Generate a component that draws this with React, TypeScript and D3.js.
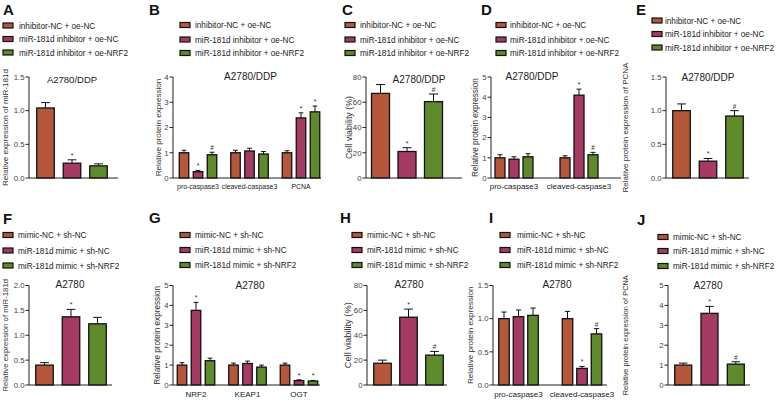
import React from "react";
import * as d3 from "d3";

// ---------- data ----------
const legendTop = ["inhibitor-NC + oe-NC", "miR-181d inhibitor + oe-NC", "miR-181d inhibitor + oe-NRF2"];
const legendBottom = ["mimic-NC + sh-NC", "miR-181d mimic + sh-NC", "miR-181d mimic + sh-NRF2"];
const seriesColors = ["#B5573B", "#A53A63", "#5E8A2C"];

const titleTop = "A2780/DDP";
const titleBottom = "A2780";

// A
const catsA = [""];
const meanA = [[1.04, 0.22, 0.18]];
const sdA = [[0.08, 0.05, 0.03]];
const markA = [["", "*", ""]];
const ticksA = [0, 0.5, 1.0, 1.5];
// B
const catsB = ["pro-caspase3", "cleaved-caspase3", "PCNA"];
const meanB = [[1.0, 0.25, 0.92], [1.0, 1.07, 0.95], [1.0, 2.38, 2.62]];
const sdB = [[0.1, 0.05, 0.1], [0.1, 0.11, 0.1], [0.08, 0.2, 0.23]];
const markB = [["", "*", "#"], ["", "", ""], ["", "*", "*"]];
const ticksB = [0, 1, 2, 3, 4];
// C
const catsC = [""];
const meanC = [[67, 21, 60.5]];
const sdC = [[7, 3, 6]];
const markC = [["", "*", "#"]];
const ticksC = [0, 20, 40, 60, 80];
// D
const catsD = ["pro-caspase3", "cleaved-caspase3"];
const meanD = [[1.0, 0.93, 1.05], [1.0, 4.1, 1.15]];
const sdD = [[0.15, 0.12, 0.15], [0.1, 0.3, 0.12]];
const markD = [["", "", ""], ["", "*", "#"]];
const ticksD = [0, 1, 2, 3, 4, 5];
// E
const catsE = [""];
const meanE = [[1.0, 0.25, 0.92]];
const sdE = [[0.1, 0.04, 0.08]];
const markE = [["", "*", "#"]];
const ticksE = [0, 0.5, 1.0, 1.5];
// F
const catsF = [""];
const meanF = [[0.4, 1.37, 1.23]];
const sdF = [[0.05, 0.15, 0.13]];
const markF = [["", "*", ""]];
const ticksF = [0, 0.5, 1.0, 1.5, 2.0];
// G
const catsG = ["NRF2", "KEAP1", "OGT"];
const meanG = [[1.0, 3.75, 1.22], [1.0, 1.08, 0.9], [1.0, 0.22, 0.2]];
const sdG = [[0.12, 0.4, 0.13], [0.1, 0.12, 0.1], [0.1, 0.04, 0.03]];
const markG = [["", "*", ""], ["", "", ""], ["", "*", "*"]];
const ticksG = [0, 1, 2, 3, 4, 5];
// H
const catsH = [""];
const meanH = [[17.5, 54.5, 24]];
const sdH = [[2.5, 6.5, 3]];
const markH = [["", "*", "#"]];
const ticksH = [0, 20, 40, 60, 80];
// I
const catsI = ["pro-caspase3", "cleaved-caspase3"];
const meanI = [[1.0, 1.03, 1.05], [1.0, 0.25, 0.77]];
const sdI = [[0.1, 0.1, 0.11], [0.11, 0.03, 0.08]];
const markI = [["", "", ""], ["", "*", "#"]];
const ticksI = [0, 0.5, 1.0, 1.5];
// J
const catsJ = [""];
const meanJ = [[1.0, 3.6, 1.05]];
const sdJ = [[0.1, 0.35, 0.12]];
const markJ = [["", "*", "#"]];
const ticksJ = [0, 1, 2, 3, 4, 5];

const FONT = "'Liberation Sans', Arial, sans-serif";

type PanelCfg = {
  letter: string; lx: number; ly: number;
  legend: string[]; legX: number; legTX: number; legY: number[];
  title: string; tx: number; ty: number; tSize: number;
  ox: number; axisEnd: number; yTop: number; yBottom: number; yMax: number;
  ticks: number[]; fmt: string;
  ylabel: string; ylx: number; ylSize: number;
  cats: string[]; means: number[][]; sds: number[][]; marks: string[][];
  c0: number; groupStep: number; barStep: number; barW: number;
  catY: number; catSize: number;
};

function Panel({ p }: { p: PanelCfg }) {
  const y = d3.scaleLinear().domain([0, p.yMax]).range([p.yBottom, p.yTop]);
  const n = p.cats.length;
  const outer = d3
    .scaleBand<string>()
    .domain(p.cats.map((_, i) => String(i)))
    .range([p.c0 - p.groupStep / 2, p.c0 - p.groupStep / 2 + p.groupStep * n]);
  const pad = 1 - p.barW / p.barStep;
  const inner = d3
    .scaleBand<string>()
    .domain(["0", "1", "2"])
    .range([-1.5 * p.barStep, 1.5 * p.barStep])
    .paddingInner(pad)
    .paddingOuter(pad / 2);
  const fmt = d3.format(p.fmt);
  const midY = (p.yTop + p.yBottom) / 2;
  return (
    <g fontFamily={FONT}>
      <text x={p.lx} y={p.ly} fontSize={15} fontWeight="bold" fill="#111">{p.letter}</text>
      {p.legend.map((t, i) => (
        <g key={i}>
          <rect x={p.legX} y={p.legY[i] - 2.5} width={10} height={5} fill={seriesColors[i]} stroke="#111" strokeWidth={1.2} />
          <text x={p.legTX} y={p.legY[i] + 3} fontSize={8.2} fill="#222">{t}</text>
        </g>
      ))}
      <text x={p.tx} y={p.ty} fontSize={p.tSize} textAnchor="middle" fill="#222">{p.title}</text>
      <text
        transform={`translate(${p.ylx + 3},${midY}) rotate(-90)`}
        fontSize={p.ylSize}
        textAnchor="middle"
        fill="#333"
      >{p.ylabel}</text>
      {p.cats.map((c, ci) => {
        const gc = (outer(String(ci)) as number) + outer.bandwidth() / 2;
        return (
          <g key={ci}>
            {p.means[ci].map((m, si) => {
              const x0 = gc + (inner(String(si)) as number);
              const bw = inner.bandwidth();
              const top = y(m + p.sds[ci][si]);
              const cx = x0 + bw / 2;
              const cap = bw * 0.5;
              return (
                <g key={si}>
                  <line x1={cx} x2={cx} y1={y(m)} y2={top} stroke="#111" strokeWidth={1} />
                  <line x1={cx - cap / 2} x2={cx + cap / 2} y1={top} y2={top} stroke="#111" strokeWidth={1} />
                  <rect x={x0} y={y(m)} width={bw} height={y(0) - y(m)} fill={seriesColors[si]} stroke="#111" strokeWidth={1.3} />
                  {p.marks[ci][si] && (
                    <text x={cx} y={top - 2} fontSize={p.marks[ci][si] === "*" ? 7 : 6.5} textAnchor="middle" fill="#333">{p.marks[ci][si]}</text>
                  )}
                </g>
              );
            })}
            {c && (
              <text x={gc} y={p.catY} fontSize={p.catSize} textAnchor="middle" fill="#222">{c}</text>
            )}
          </g>
        );
      })}
      <line x1={p.ox} x2={p.ox} y1={p.yTop} y2={p.yBottom} stroke="#222" strokeWidth={1} />
      <line x1={p.ox} x2={p.axisEnd} y1={p.yBottom} y2={p.yBottom} stroke="#222" strokeWidth={1} />
      {p.ticks.map((t, i) => (
        <g key={i}>
          <line x1={p.ox - 3.5} x2={p.ox} y1={y(t)} y2={y(t)} stroke="#222" strokeWidth={1} />
          <text x={p.ox - 4.5} y={y(t) + 2.8} fontSize={7.8} textAnchor="end" fill="#444">{fmt(t)}</text>
        </g>
      ))}
    </g>
  );
}

const topRow = { yTop: 77, yBottom: 178, catY: 188.5 };
const botRow = { yTop: 285.5, yBottom: 385, catY: 396.5 };

const panels: PanelCfg[] = [
  {
    letter: "A", lx: 3, ly: 15, legend: legendTop, legX: 3, legTX: 19, legY: [25.5, 39, 52.5],
    title: titleTop, tx: 72, ty: 83, tSize: 9.5,
    ox: 29, axisEnd: 118, ...topRow, yMax: 1.5, ticks: ticksA, fmt: ".1f",
    ylabel: "Relative expression of miR-181d", ylx: 5, ylSize: 8.1,
    cats: catsA, means: meanA, sds: sdA, marks: markA,
    c0: 72, groupStep: 80, barStep: 26.5, barW: 17.5, catSize: 8,
  },
  {
    letter: "B", lx: 149, ly: 15, legend: legendTop, legX: 180, legTX: 195, legY: [25, 39.5, 53],
    title: titleTop, tx: 250.5, ty: 80, tSize: 10,
    ox: 173, axisEnd: 321, ...topRow, yMax: 4, ticks: ticksB, fmt: "d",
    ylabel: "Relative protein expression", ylx: 158, ylSize: 8.1,
    cats: catsB, means: meanB, sds: sdB, marks: markB,
    c0: 198, groupStep: 51.5, barStep: 14, barW: 9.5, catSize: 6.9,
  },
  {
    letter: "C", lx: 342, ly: 15, legend: legendTop, legX: 345, legTX: 360, legY: [25, 39.5, 53],
    title: titleTop, tx: 419, ty: 83, tSize: 10,
    ox: 366, axisEnd: 462, ...topRow, yMax: 80, ticks: ticksC, fmt: "d",
    ylabel: "Cell viability (%)", ylx: 348.5, ylSize: 8.9,
    cats: catsC, means: meanC, sds: sdC, marks: markC,
    c0: 407, groupStep: 80, barStep: 26.5, barW: 18, catSize: 8,
  },
  {
    letter: "D", lx: 481, ly: 15, legend: legendTop, legX: 496, legTX: 510, legY: [25, 39.5, 53],
    title: titleTop, tx: 532, ty: 80, tSize: 10,
    ox: 491, axisEnd: 621, ...topRow, yMax: 5, ticks: ticksD, fmt: "d",
    ylabel: "Relative protein expression", ylx: 475, ylSize: 8.2,
    cats: catsD, means: meanD, sds: sdD, marks: markD,
    c0: 514, groupStep: 65, barStep: 14, barW: 10, catSize: 8,
  },
  {
    letter: "E", lx: 636, ly: 15, legend: legendTop, legX: 652, legTX: 665, legY: [20.5, 34, 47.5],
    title: titleTop, tx: 708, ty: 81, tSize: 10,
    ox: 666, axisEnd: 749, ...topRow, yMax: 1.5, ticks: ticksE, fmt: ".1f",
    ylabel: "Relative protein expression of PCNA", ylx: 625, ylSize: 8,
    cats: catsE, means: meanE, sds: sdE, marks: markE,
    c0: 708, groupStep: 80, barStep: 26.5, barW: 17.5, catSize: 8,
  },
  {
    letter: "F", lx: 3, ly: 224, legend: legendBottom, legX: 3, legTX: 18, legY: [235, 250.5, 265.5],
    title: titleBottom, tx: 70, ty: 288, tSize: 10,
    ox: 29, axisEnd: 112, ...botRow, yMax: 2, ticks: ticksF, fmt: ".1f",
    ylabel: "Relative expression of miR-181d", ylx: 5, ylSize: 7.8,
    cats: catsF, means: meanF, sds: sdF, marks: markF,
    c0: 71, groupStep: 80, barStep: 26.5, barW: 17.5, catSize: 8,
  },
  {
    letter: "G", lx: 149, ly: 223, legend: legendBottom, legX: 180, legTX: 195, legY: [235, 250, 265],
    title: titleBottom, tx: 250, ty: 289, tSize: 10,
    ox: 173, axisEnd: 320, ...botRow, yMax: 5, ticks: ticksG, fmt: "d",
    ylabel: "Relative protein expression", ylx: 157, ylSize: 8.2,
    cats: catsG, means: meanG, sds: sdG, marks: markG,
    c0: 196, groupStep: 51.5, barStep: 14, barW: 9.5, catSize: 8,
  },
  {
    letter: "H", lx: 340, ly: 223, legend: legendBottom, legX: 352, legTX: 367, legY: [235, 250, 265],
    title: titleBottom, tx: 409, ty: 288, tSize: 10,
    ox: 367, axisEnd: 447, ...botRow, yMax: 80, ticks: ticksH, fmt: "d",
    ylabel: "Cell viability (%)", ylx: 348, ylSize: 9.3,
    cats: catsH, means: meanH, sds: sdH, marks: markH,
    c0: 408.5, groupStep: 80, barStep: 26, barW: 17.5, catSize: 8,
  },
  {
    letter: "I", lx: 489, ly: 223, legend: legendBottom, legX: 500, legTX: 517, legY: [235, 250, 265],
    title: titleBottom, tx: 557, ty: 288, tSize: 10,
    ox: 493, axisEnd: 607, ...botRow, yMax: 1.5, ticks: ticksI, fmt: ".1f",
    ylabel: "Relative protein expression", ylx: 470, ylSize: 8.1,
    cats: catsI, means: meanI, sds: sdI, marks: markI,
    c0: 518.5, groupStep: 63.5, barStep: 14.5, barW: 10.5, catSize: 8,
  },
  {
    letter: "J", lx: 637, ly: 225, legend: legendBottom, legX: 658, legTX: 673, legY: [237, 251, 266],
    title: titleBottom, tx: 708, ty: 289, tSize: 10,
    ox: 668, axisEnd: 750, ...botRow, yMax: 5, ticks: ticksJ, fmt: "d",
    ylabel: "Relative protein expression of PCNA", ylx: 625, ylSize: 7.4,
    cats: catsJ, means: meanJ, sds: sdJ, marks: markJ,
    c0: 709.5, groupStep: 80, barStep: 26.3, barW: 17, catSize: 8,
  },
];

export default function App() {
  return (
    <svg
      width={778}
      height={401}
      viewBox="0 0 778 401"
      style={{ position: "absolute", left: 0, top: 0, display: "block", background: "#fff" }}
    >
      <rect x={0} y={0} width={778} height={401} fill="#fff" />
      {panels.map((p, i) => (
        <Panel key={i} p={p} />
      ))}
    </svg>
  );
}
